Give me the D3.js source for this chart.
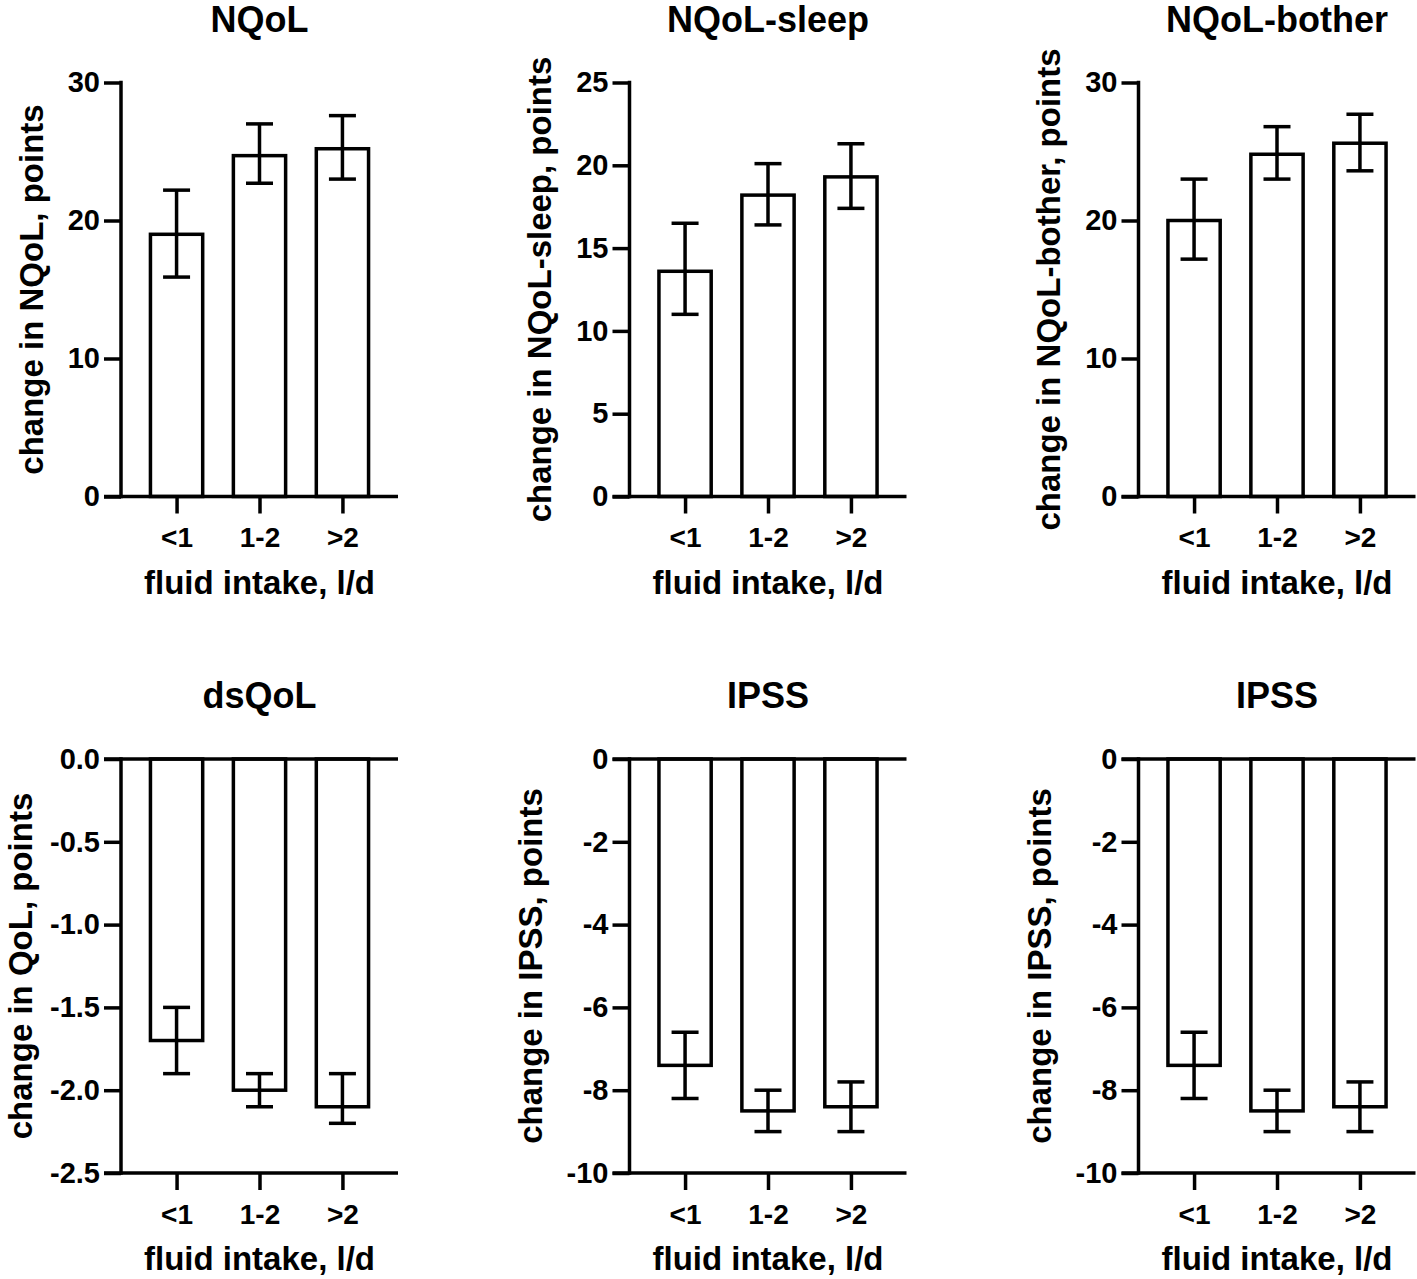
<!DOCTYPE html>
<html>
<head>
<meta charset="utf-8">
<script src="https://cdn.jsdelivr.net/npm/d3@7"></script>
<style>
  body { margin: 0; background: #fff; }
  text { font-family: Arial, "Liberation Sans", Helvetica, sans-serif; font-weight: bold; fill: #000; }
</style>
</head>
<body>
<script>
// categories on the x axis (fluid intake, l/d)
var categories = ["<1", "1-2", ">2"];

// NQoL
var nqolMean = [19.0, 24.7, 25.2];
var nqolLow  = [15.9, 22.7, 23.0];
var nqolHigh = [22.2, 27.0, 27.6];
var nqolTicks = [0, 10, 20, 30];

// NQoL-sleep
var sleepMean = [13.6, 18.2, 19.3];
var sleepLow  = [11.0, 16.4, 17.4];
var sleepHigh = [16.5, 20.1, 21.3];
var sleepTicks = [0, 5, 10, 15, 20, 25];

// NQoL-bother
var botherMean = [20.0, 24.8, 25.6];
var botherLow  = [17.2, 23.0, 23.6];
var botherHigh = [23.0, 26.8, 27.7];
var botherTicks = [0, 10, 20, 30];

// dsQoL
var dsqolMean = [-1.7, -2.0, -2.1];
var dsqolLow  = [-1.9, -2.1, -2.2];
var dsqolHigh = [-1.5, -1.9, -1.9];
var dsqolTicks = [-2.5, -2.0, -1.5, -1.0, -0.5, 0];

// IPSS
var ipssMean = [-7.4, -8.5, -8.4];
var ipssLow  = [-8.2, -9.0, -9.0];
var ipssHigh = [-6.6, -8.0, -7.8];
var ipssTicks = [-10, -8, -6, -4, -2, 0];

var xTitle = "fluid intake, l/d";

var panels = [
  { title: "NQoL", ylab: "change in NQoL, points", mean: nqolMean, lo: nqolLow, hi: nqolHigh, ticks: nqolTicks, fmt: d => String(d) },
  { title: "NQoL-sleep", ylab: "change in NQoL-sleep, points", mean: sleepMean, lo: sleepLow, hi: sleepHigh, ticks: sleepTicks, fmt: d => String(d) },
  { title: "NQoL-bother", ylab: "change in NQoL-bother, points", mean: botherMean, lo: botherLow, hi: botherHigh, ticks: botherTicks, fmt: d => String(d) },
  { title: "dsQoL", ylab: "change in QoL, points", mean: dsqolMean, lo: dsqolLow, hi: dsqolHigh, ticks: dsqolTicks, fmt: d => d.toFixed(1) },
  { title: "IPSS", ylab: "change in IPSS, points", mean: ipssMean, lo: ipssLow, hi: ipssHigh, ticks: ipssTicks, fmt: d => String(d) },
  { title: "IPSS", ylab: "change in IPSS, points", mean: ipssMean, lo: ipssLow, hi: ipssHigh, ticks: ipssTicks, fmt: d => String(d) }
];

var width = 1417,
    height = 1279,
    plotW = 277,
    plotH = 414,
    colX = [121, 629.5, 1138.5],
    rowY = [82.5, 759],
    lw = 3.5,
    tickLen = 17;

var svg = d3.select("body").append("svg")
  .attr("width", width)
  .attr("height", height);

function drawPanel(p, i) {
  var gx = colX[i % 3];
  var g = svg.append("g")
    .attr("transform", `translate(${gx}, ${rowY[Math.floor(i / 3)]})`);

  var x = d3.scalePoint().domain(categories).range([0, plotW]).padding(0.67);
  var y = d3.scaleLinear().domain(d3.extent(p.ticks)).range([plotH, 0]);
  var bw = x.step() * 0.63,
      cap = 27;

  // bars
  g.selectAll("rect.bar").data(p.mean).join("rect")
    .attr("class", "bar")
    .attr("x", (d, k) => x(categories[k]) - bw / 2)
    .attr("y", d => Math.min(y(d), y(0)))
    .attr("width", bw)
    .attr("height", d => Math.abs(y(d) - y(0)))
    .attr("fill", "#fff")
    .attr("stroke", "#000")
    .attr("stroke-width", lw);

  // error bars
  var eb = g.selectAll("g.err").data(p.mean).join("g").attr("class", "err");
  eb.append("line")
    .attr("x1", (d, k) => x(categories[k]))
    .attr("x2", (d, k) => x(categories[k]))
    .attr("y1", (d, k) => y(p.lo[k]))
    .attr("y2", (d, k) => y(p.hi[k]));
  eb.append("line")
    .attr("x1", (d, k) => x(categories[k]) - cap / 2)
    .attr("x2", (d, k) => x(categories[k]) + cap / 2)
    .attr("y1", (d, k) => y(p.lo[k]))
    .attr("y2", (d, k) => y(p.lo[k]));
  eb.append("line")
    .attr("x1", (d, k) => x(categories[k]) - cap / 2)
    .attr("x2", (d, k) => x(categories[k]) + cap / 2)
    .attr("y1", (d, k) => y(p.hi[k]))
    .attr("y2", (d, k) => y(p.hi[k]));
  eb.selectAll("line").attr("stroke", "#000").attr("stroke-width", lw);

  // y axis
  var ya = g.append("g")
    .call(d3.axisLeft(y).tickValues(p.ticks).tickSize(tickLen).tickSizeOuter(0).tickPadding(4).tickFormat(p.fmt));
  ya.select(".domain").remove();
  ya.selectAll("line").attr("stroke-width", lw);
  ya.selectAll("text").attr("font-size", 29);
  g.append("line")
    .attr("x1", 0).attr("x2", 0)
    .attr("y1", 0).attr("y2", plotH)
    .attr("stroke", "#000")
    .attr("stroke-width", lw)
    .attr("stroke-linecap", "square");

  // zero line when the bars hang down
  if (y(0) < plotH) {
    g.append("line")
      .attr("x1", -tickLen).attr("x2", plotW)
      .attr("y1", y(0)).attr("y2", y(0))
      .attr("stroke", "#000")
      .attr("stroke-width", lw);
  }

  // x axis at the bottom
  var xa = g.append("g")
    .attr("transform", `translate(0, ${plotH})`)
    .call(d3.axisBottom(x).tickSize(tickLen).tickSizeOuter(0).tickPadding(14));
  xa.select(".domain").remove();
  xa.selectAll("line").attr("stroke-width", lw);
  xa.selectAll("text").attr("font-size", 28);
  g.append("line")
    .attr("x1", -tickLen).attr("x2", plotW)
    .attr("y1", plotH).attr("y2", plotH)
    .attr("stroke", "#000")
    .attr("stroke-width", lw);

  // labels (keep the rotated one inside the page)
  var tb = ya.node().getBBox();
  var lx = Math.max(tb.x - 25, 32 - gx);
  g.append("text")
    .attr("transform", `translate(${lx}, ${plotH / 2}) rotate(-90)`)
    .attr("text-anchor", "middle")
    .attr("font-size", 33)
    .text(p.ylab);

  g.append("text")
    .attr("x", plotW / 2)
    .attr("y", plotH + 97)
    .attr("text-anchor", "middle")
    .attr("font-size", 33)
    .text(xTitle);

  g.append("text")
    .attr("x", plotW / 2)
    .attr("y", -51)
    .attr("text-anchor", "middle")
    .attr("font-size", 36)
    .text(p.title);
}

panels.forEach(drawPanel);
</script>
</body>
</html>
